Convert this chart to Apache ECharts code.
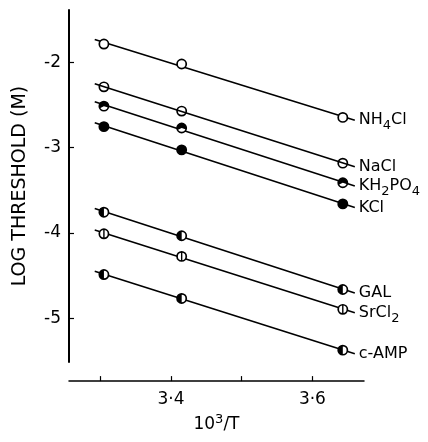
<!DOCTYPE html>
<html><head><meta charset="utf-8">
<script src="https://cdn.jsdelivr.net/npm/echarts@6/dist/echarts.min.js"></script>
<style>html,body{margin:0;padding:0;background:#fff}#c{width:428px;height:442px}</style>
</head><body><div id="c"></div>
<script>
// ---- data ----
const xValues = [3.305, 3.415, 3.643];          // 10^3/T for the three temperatures
const NH4Cl  = [-1.785, -2.019, -2.645];
const NaCl   = [-2.287, -2.571, -3.181];
const KH2PO4 = [-2.513, -2.769, -3.411];
const KCl    = [-2.753, -3.026, -3.659];
const GAL    = [-3.756, -4.032, -4.662];
const SrCl2  = [-4.009, -4.274, -4.895];
const cAMP   = [-4.487, -4.767, -5.373];
const seriesNames  = ['NH4Cl', 'NaCl', 'KH2PO4', 'KCl', 'GAL', 'SrCl2', 'c-AMP'];
const seriesLabels = ['NH{s|4}Cl', 'NaCl', 'KH{s|2}PO{s|4}', 'KCl', 'GAL', 'SrCl{s|2}', 'c-AMP'];
const seriesValues = [NH4Cl, NaCl, KH2PO4, KCl, GAL, SrCl2, cAMP];
const xTickValues  = [3.3, 3.4, 3.5, 3.6];
const xLabelValues = [3.4, 3.6];
const yTickValues  = [-5, -4, -3, -2];
const fitRange = [3.292, 3.66];                  // extent of drawn regression lines

// ---- styles ----
const markerKinds = ['open', 'clear', 'topHalf', 'full', 'leftHalf', 'vbar', 'leftHalf'];
const FONT = 'DejaVu Sans';

function fit(xs, ys) {
  const n = xs.length;
  const mx = xs.reduce((a, b) => a + b, 0) / n;
  const my = ys.reduce((a, b) => a + b, 0) / n;
  let sxy = 0, sxx = 0;
  for (let i = 0; i < n; i++) { sxy += (xs[i] - mx) * (ys[i] - my); sxx += (xs[i] - mx) ** 2; }
  const b = sxy / sxx;
  return { a: my - b * mx, b };
}

const series = [];
seriesValues.forEach((vals, i) => {
  const f = fit(xValues, vals);
  series.push({
    name: seriesNames[i] + ' fit',
    type: 'line',
    symbol: 'none',
    silent: true,
    lineStyle: { color: '#000', width: 1.6 },
    data: fitRange.map(x => [x, f.a + f.b * x]),
    endLabel: {
      show: true,
      distance: 4,
      formatter: () => seriesLabels[i],
      color: '#000',
      fontFamily: FONT,
      fontSize: 16,
      lineHeight: 22,
      rich: {
        s: { fontSize: 13, fontFamily: FONT, color: '#000', lineHeight: 10, padding: [11, 0, 0, 0] }
      }
    },
    z: 2
  });
  const kind = markerKinds[i];
  series.push({
    name: seriesNames[i],
    type: 'custom',
    clip: false,
    data: xValues.map((x, k) => [x, vals[k]]),
    renderItem: function (params, api) {
      const p = api.coord([api.value(0), api.value(1)]);
      const r = 4.6;
      const ch = [];
      ch.push({ type: 'circle', shape: { cx: p[0], cy: p[1], r: r },
        style: { fill: kind === 'clear' ? 'none' : (kind === 'full' ? '#000' : '#fff'), stroke: '#000', lineWidth: 1.7 } });
      if (kind === 'leftHalf') {
        ch.push({ type: 'sector', shape: { cx: p[0], cy: p[1], r0: 0, r: r, startAngle: Math.PI / 2, endAngle: Math.PI * 1.5, clockwise: true }, style: { fill: '#000' } });
      } else if (kind === 'topHalf') {
        ch.push({ type: 'sector', shape: { cx: p[0], cy: p[1], r0: 0, r: r, startAngle: Math.PI * 0.85, endAngle: Math.PI * 2.1, clockwise: true }, style: { fill: '#000' } });
      } else if (kind === 'vbar') {
        ch.push({ type: 'line', shape: { x1: p[0], y1: p[1] - r, x2: p[0], y2: p[1] + r }, style: { stroke: '#000', lineWidth: 1.4 } });
      }
      return { type: 'group', children: ch };
    },
    z: 5
  });
});

const chart = echarts.init(document.getElementById('c'));
chart.setOption({
  backgroundColor: '#fff',
  animation: false,
  grid: { left: 69, right: 64, top: 10, bottom: 78, containLabel: false },
  xAxis: {
    type: 'value',
    min: 3.2556, max: 3.673,
    offset: 19,
    name: '10{p|3}/T',
    nameLocation: 'middle',
    nameGap: 30,
    nameTextStyle: {
      color: '#000', fontFamily: FONT, fontSize: 17, lineHeight: 22,
      rich: { p: { fontSize: 13, fontFamily: FONT, color: '#000', lineHeight: 10, padding: [0, 0, 11, 0] } }
    },
    axisLine: { show: true, onZero: false, lineStyle: { color: '#000', width: 1.5 } },
    axisTick: { show: true, inside: true, length: 5, customValues: xTickValues, lineStyle: { color: '#000', width: 1.2 } },
    axisLabel: { customValues: xLabelValues, margin: 10, color: '#000', fontFamily: FONT, fontSize: 17,
      formatter: v => v.toFixed(1).replace('.', '·') },
    splitLine: { show: false }
  },
  yAxis: {
    type: 'value',
    min: -5.513, max: -1.386,
    name: 'LOG THRESHOLD (M)',
    nameLocation: 'middle',
    nameGap: 39,
    nameTextStyle: { color: '#000', fontFamily: FONT, fontSize: 19 },
    axisLine: { show: true, onZero: false, lineStyle: { color: '#000', width: 2 } },
    axisTick: { show: true, inside: true, length: 5, customValues: yTickValues, lineStyle: { color: '#000', width: 1.2 } },
    axisLabel: { customValues: yTickValues, margin: 8, color: '#000', fontFamily: FONT, fontSize: 17,
      formatter: v => String(Math.round(v)) },
    splitLine: { show: false }
  },
  series: series
});
</script>
</body></html>
